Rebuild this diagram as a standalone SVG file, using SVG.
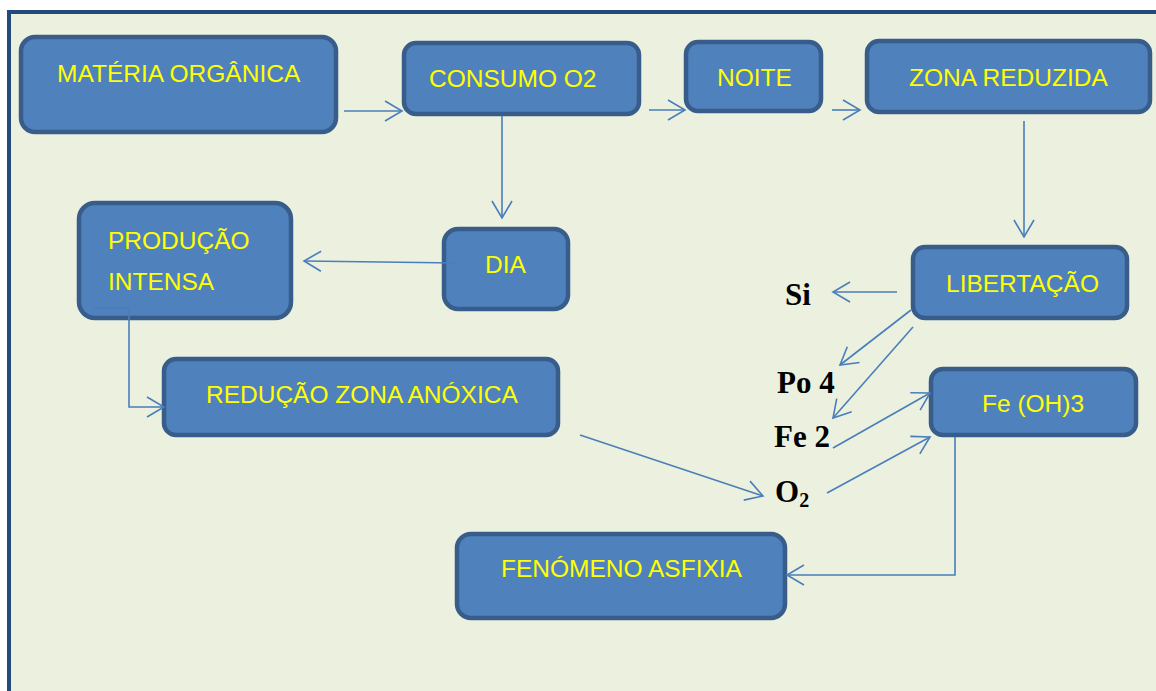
<svg xmlns="http://www.w3.org/2000/svg" width="1156" height="691" viewBox="0 0 1156 691">
<style>
.box{fill:#4F81BD;stroke:#385D8A;stroke-width:4.5}
.lbl{font-family:"Liberation Sans",Arial,sans-serif;font-size:24.5px;fill:#FFFF00}
.chem{font-family:"Liberation Serif","Times New Roman",serif;font-size:31px;font-weight:bold;fill:#000}
.con{fill:none;stroke:#4A7EBB;stroke-width:1.6}
</style>
<defs>
<marker id="arr" markerUnits="userSpaceOnUse" viewBox="-19 -12 21 24" refX="0" refY="0" markerWidth="21" markerHeight="24" orient="auto">
<path d="M-17,-10 L0,0 L-17,10" fill="none" stroke="#4A7EBB" stroke-width="1.6"/>
</marker>
</defs>
<rect x="0" y="0" width="1156" height="691" fill="#FFFFFF"/>
<rect x="9" y="12" width="1147" height="679" fill="#EBF1DE"/>
<path d="M9,691 L9,12 L1156,12" fill="none" stroke="#234A7D" stroke-width="4"/>

<g id="n-materia"><rect class="box" x="21" y="37" width="315" height="95" rx="14"/><text class="lbl" x="57" y="82">MATÉRIA ORGÂNICA</text></g>
<g id="n-consumo"><rect class="box" x="404" y="43" width="235" height="71" rx="12"/><text class="lbl" x="429" y="87">CONSUMO O2</text></g>
<g id="n-noite"><rect class="box" x="686" y="42" width="135" height="69" rx="12"/><text class="lbl" x="717" y="86">NOITE</text></g>
<g id="n-zona"><rect class="box" x="867" y="41" width="283" height="71" rx="12"/><text class="lbl" x="909" y="86">ZONA REDUZIDA</text></g>
<g id="n-producao"><rect class="box" x="79" y="203" width="212" height="115" rx="16"/><text class="lbl" x="108" y="249">PRODUÇÃO</text><text class="lbl" x="108" y="290">INTENSA</text></g>
<g id="n-dia"><rect class="box" x="444" y="229" width="124" height="80" rx="14"/><text class="lbl" x="485" y="273">DIA</text></g>
<g id="n-libertacao"><rect class="box" x="913" y="247" width="214" height="71" rx="12"/><text class="lbl" x="946" y="292">LIBERTAÇÃO</text></g>
<g id="n-reducao"><rect class="box" x="164" y="359" width="394" height="76" rx="12"/><text class="lbl" x="206" y="403">REDUÇÃO ZONA ANÓXICA</text></g>
<g id="n-feoh3"><rect class="box" x="931" y="369" width="205" height="66" rx="12"/><text class="lbl" x="982" y="412">Fe (OH)3</text></g>
<g id="n-fenomeno"><rect class="box" x="457" y="534" width="328" height="84" rx="14"/><text class="lbl" x="501" y="577">FENÓMENO ASFIXIA</text></g>
<g id="n-si"><text class="chem" x="785" y="305">Si</text></g>
<g id="n-po4"><text class="chem" x="777" y="393">Po 4</text></g>
<g id="n-fe2"><text class="chem" x="774" y="447">Fe 2</text></g>
<g id="n-o2"><text class="chem" x="775" y="502">O<tspan font-size="20" dy="5">2</tspan></text></g>

<g id="connectors">
<line class="con" x1="344" y1="111" x2="402" y2="111" marker-end="url(#arr)"/>
<line class="con" x1="649" y1="110" x2="685" y2="110" marker-end="url(#arr)"/>
<line class="con" x1="832" y1="110" x2="860" y2="110" marker-end="url(#arr)"/>
<line class="con" x1="502" y1="116" x2="502" y2="218" marker-end="url(#arr)"/>
<line class="con" x1="1024" y1="121" x2="1024" y2="237" marker-end="url(#arr)"/>
<line class="con" x1="457" y1="263" x2="304" y2="261" marker-end="url(#arr)"/>
<path class="con" d="M94,308 L129,308 L129,407 L164,407" marker-end="url(#arr)"/>
<line class="con" x1="897" y1="292" x2="833" y2="292" marker-end="url(#arr)"/>
<line class="con" x1="911" y1="310" x2="840" y2="365" marker-end="url(#arr)"/>
<line class="con" x1="913" y1="327" x2="833" y2="418" marker-end="url(#arr)"/>
<line class="con" x1="833" y1="448" x2="930" y2="393" marker-end="url(#arr)"/>
<line class="con" x1="827" y1="493" x2="930" y2="437" marker-end="url(#arr)"/>
<line class="con" x1="580" y1="435" x2="763" y2="496" marker-end="url(#arr)"/>
<path class="con" d="M955,437 L955,575 L787,575" marker-end="url(#arr)"/>
</g>
</svg>
